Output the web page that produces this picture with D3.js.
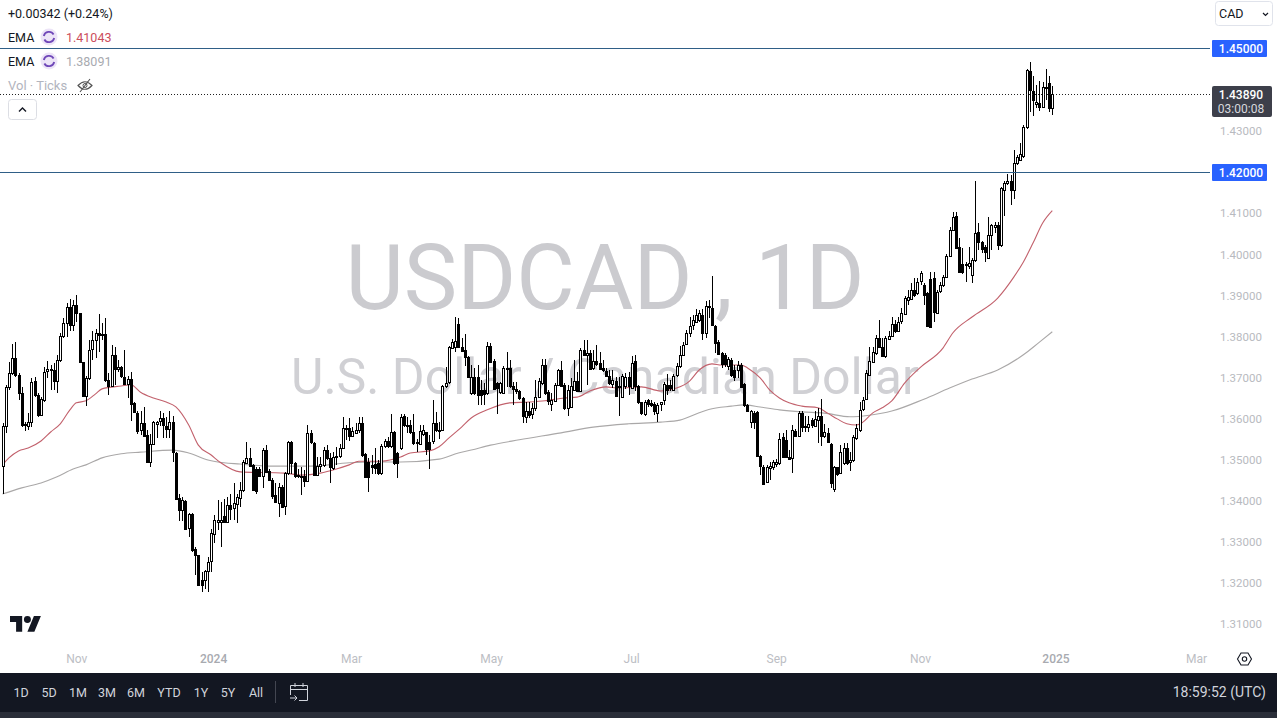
<!DOCTYPE html>
<html>
<head>
<meta charset="utf-8">
<title>USDCAD 1D</title>
<script src="https://cdn.jsdelivr.net/npm/d3@7"></script>
<style>
  html, body { margin: 0; padding: 0; background: #fff; overflow: hidden; }
  svg { display: block; font-family: Roboto, "Open Sans", sans-serif; }
</style>
</head>
<body>
<div id="chart"></div>
<script>
// daily candles
const opens = [
  1.3483,1.3580,1.3674,1.3708,1.3745,1.3704,1.3659,1.3584,1.3580,1.3590,
  1.3689,1.3655,1.3606,1.3645,1.3712,1.3718,1.3715,1.3688,1.3740,1.3799,
  1.3830,1.3870,1.3826,1.3874,1.3854,1.3735,1.3653,1.3696,1.3765,1.3788,
  1.3805,1.3801,1.3803,1.3692,1.3678,1.3753,1.3718,1.3723,1.3700,1.3682,
  1.3693,1.3635,1.3612,1.3568,1.3586,1.3558,1.3493,1.3536,1.3586,1.3590,
  1.3598,1.3580,1.3572,1.3589,1.3515,1.3404,1.3375,1.3397,1.3330,1.3365,
  1.3279,1.3265,1.3205,1.3205,1.3227,1.3249,1.3318,1.3347,1.3347,1.3360,
  1.3345,1.3387,1.3378,1.3391,1.3403,1.3423,1.3490,1.3501,1.3484,1.3476,
  1.3476,1.3458,1.3521,1.3470,1.3449,1.3411,1.3393,1.3432,1.3383,1.3464,
  1.3540,1.3490,1.3460,1.3459,1.3458,1.3446,1.3562,1.3539,1.3460,1.3482,
  1.3484,1.3521,1.3501,1.3479,1.3503,1.3505,1.3525,1.3574,1.3576,1.3556,
  1.3563,1.3571,1.3588,1.3511,1.3493,1.3484,1.3488,1.3490,1.3466,1.3531,
  1.3543,1.3531,1.3564,1.3513,1.3527,1.3604,1.3582,1.3582,1.3564,1.3540,
  1.3537,1.3560,1.3564,1.3541,1.3541,1.3586,1.3570,1.3570,1.3677,1.3685,
  1.3771,1.3773,1.3828,1.3773,1.3765,1.3747,1.3661,1.3700,1.3700,1.3668,
  1.3668,1.3660,1.3775,1.3739,1.3684,1.3661,1.3661,1.3720,1.3720,1.3676,
  1.3669,1.3664,1.3647,1.3601,1.3617,1.3609,1.3623,1.3651,1.3684,1.3729,
  1.3662,1.3633,1.3642,1.3680,1.3716,1.3680,1.3625,1.3625,1.3669,1.3690,
  1.3666,1.3765,1.3753,1.3757,1.3719,1.3737,1.3734,1.3720,1.3714,1.3702,
  1.3682,1.3690,1.3677,1.3651,1.3676,1.3699,1.3674,1.3737,1.3676,1.3637,
  1.3609,1.3642,1.3635,1.3633,1.3612,1.3631,1.3642,1.3680,1.3680,1.3669,
  1.3702,1.3725,1.3753,1.3780,1.3806,1.3824,1.3834,1.3838,1.3850,1.3806,
  1.3869,1.3867,1.3824,1.3785,1.3757,1.3753,1.3725,1.3741,1.3716,1.3716,
  1.3729,1.3682,1.3631,1.3591,1.3612,1.3613,1.3507,1.3481,1.3444,1.3479,
  1.3479,1.3487,1.3489,1.3554,1.3546,1.3505,1.3501,1.3568,1.3556,1.3611,
  1.3580,1.3578,1.3595,1.3581,1.3595,1.3603,1.3556,1.3562,1.3536,1.3428,
  1.3479,1.3465,1.3489,1.3526,1.3491,1.3497,1.3550,1.3570,1.3621,1.3645,
  1.3704,1.3737,1.3757,1.3794,1.3773,1.3749,1.3791,1.3799,1.3829,1.3813,
  1.3834,1.3854,1.3886,1.3890,1.3912,1.3903,1.3931,1.3923,1.3903,1.3937,
  1.3939,1.3855,1.3909,1.3923,1.3943,1.3994,1.4058,1.4091,1.4015,1.3973,
  1.3973,1.3969,1.3947,1.3984,1.4053,1.4028,1.4015,1.3990,1.4045,1.4063,
  1.4069,1.4020,1.4154,1.4171,1.4176,1.4154,1.4219,1.4227,1.4238,1.4307,
  1.4445,1.4396,1.4365,1.4367,1.4356,1.4404,1.4414,1.4356
];
const closes = [
  1.3580,1.3675,1.3708,1.3745,1.3704,1.3659,1.3582,1.3581,1.3590,1.3688,
  1.3655,1.3606,1.3645,1.3712,1.3718,1.3715,1.3688,1.3740,1.3799,1.3830,
  1.3870,1.3826,1.3874,1.3854,1.3735,1.3653,1.3696,1.3765,1.3788,1.3805,
  1.3801,1.3804,1.3690,1.3678,1.3753,1.3718,1.3723,1.3700,1.3682,1.3693,
  1.3633,1.3612,1.3568,1.3586,1.3555,1.3493,1.3536,1.3590,1.3590,1.3598,
  1.3580,1.3572,1.3589,1.3515,1.3404,1.3375,1.3399,1.3330,1.3365,1.3278,
  1.3264,1.3192,1.3192,1.3227,1.3249,1.3318,1.3351,1.3351,1.3351,1.3345,
  1.3387,1.3378,1.3391,1.3407,1.3423,1.3491,1.3501,1.3482,1.3423,1.3423,
  1.3458,1.3521,1.3468,1.3449,1.3409,1.3393,1.3432,1.3383,1.3464,1.3540,
  1.3490,1.3458,1.3458,1.3458,1.3446,1.3562,1.3539,1.3462,1.3482,1.3486,
  1.3521,1.3501,1.3479,1.3505,1.3506,1.3525,1.3574,1.3576,1.3556,1.3568,
  1.3571,1.3588,1.3509,1.3456,1.3456,1.3480,1.3479,1.3466,1.3531,1.3543,
  1.3531,1.3564,1.3488,1.3488,1.3602,1.3583,1.3580,1.3564,1.3537,1.3537,
  1.3568,1.3570,1.3523,1.3523,1.3586,1.3570,1.3571,1.3677,1.3685,1.3771,
  1.3785,1.3787,1.3773,1.3763,1.3747,1.3698,1.3699,1.3660,1.3656,1.3656,
  1.3658,1.3775,1.3737,1.3672,1.3672,1.3684,1.3722,1.3722,1.3676,1.3668,
  1.3664,1.3647,1.3603,1.3615,1.3607,1.3623,1.3651,1.3690,1.3727,1.3660,
  1.3639,1.3642,1.3680,1.3716,1.3678,1.3625,1.3668,1.3676,1.3690,1.3666,
  1.3765,1.3753,1.3757,1.3719,1.3737,1.3729,1.3719,1.3715,1.3703,1.3684,
  1.3692,1.3653,1.3676,1.3702,1.3699,1.3676,1.3734,1.3676,1.3637,1.3611,
  1.3639,1.3633,1.3631,1.3617,1.3631,1.3637,1.3682,1.3669,1.3672,1.3702,
  1.3725,1.3753,1.3777,1.3806,1.3824,1.3837,1.3850,1.3854,1.3806,1.3871,
  1.3872,1.3826,1.3783,1.3757,1.3729,1.3730,1.3742,1.3704,1.3700,1.3729,
  1.3676,1.3631,1.3617,1.3617,1.3589,1.3505,1.3483,1.3440,1.3481,1.3483,
  1.3491,1.3493,1.3548,1.3505,1.3504,1.3501,1.3570,1.3556,1.3611,1.3578,
  1.3577,1.3585,1.3582,1.3597,1.3604,1.3554,1.3566,1.3539,1.3440,1.3481,
  1.3463,1.3517,1.3526,1.3489,1.3497,1.3554,1.3574,1.3619,1.3643,1.3708,
  1.3737,1.3761,1.3794,1.3772,1.3751,1.3794,1.3798,1.3829,1.3812,1.3834,
  1.3854,1.3892,1.3893,1.3912,1.3899,1.3931,1.3951,1.3899,1.3823,1.3821,
  1.3855,1.3907,1.3923,1.3942,1.3994,1.4058,1.4089,1.4012,1.3955,1.3953,
  1.3972,1.3977,1.3984,1.4050,1.4028,1.4012,1.4002,1.4045,1.4069,1.4069,
  1.4020,1.4158,1.4171,1.4177,1.4154,1.4219,1.4234,1.4241,1.4308,1.4446,
  1.4398,1.4373,1.4369,1.4357,1.4404,1.4406,1.4353,1.4389
];
const highs = [
  1.3586,1.3680,1.3736,1.3779,1.3784,1.3708,1.3675,1.3590,1.3611,1.3696,
  1.3698,1.3659,1.3651,1.3724,1.3739,1.3728,1.3734,1.3753,1.3805,1.3842,
  1.3879,1.3888,1.3887,1.3899,1.3856,1.3736,1.3702,1.3789,1.3812,1.3815,
  1.3853,1.3830,1.3842,1.3708,1.3777,1.3773,1.3740,1.3726,1.3765,1.3701,
  1.3710,1.3639,1.3615,1.3615,1.3625,1.3570,1.3559,1.3592,1.3592,1.3617,
  1.3612,1.3602,1.3615,1.3604,1.3517,1.3414,1.3407,1.3399,1.3369,1.3367,
  1.3286,1.3266,1.3225,1.3229,1.3261,1.3330,1.3363,1.3399,1.3395,1.3401,
  1.3407,1.3415,1.3440,1.3415,1.3444,1.3497,1.3540,1.3525,1.3487,1.3480,
  1.3480,1.3525,1.3533,1.3474,1.3452,1.3440,1.3440,1.3436,1.3468,1.3543,
  1.3543,1.3493,1.3476,1.3480,1.3472,1.3583,1.3570,1.3541,1.3505,1.3505,
  1.3529,1.3533,1.3513,1.3517,1.3529,1.3536,1.3602,1.3582,1.3598,1.3578,
  1.3586,1.3602,1.3601,1.3514,1.3501,1.3509,1.3525,1.3498,1.3537,1.3549,
  1.3553,1.3610,1.3568,1.3517,1.3610,1.3610,1.3602,1.3594,1.3610,1.3549,
  1.3582,1.3582,1.3566,1.3557,1.3644,1.3614,1.3590,1.3679,1.3724,1.3774,
  1.3791,1.3844,1.3842,1.3793,1.3803,1.3751,1.3729,1.3720,1.3729,1.3692,
  1.3684,1.3783,1.3781,1.3742,1.3688,1.3688,1.3725,1.3759,1.3741,1.3688,
  1.3688,1.3668,1.3651,1.3639,1.3639,1.3635,1.3692,1.3696,1.3742,1.3742,
  1.3668,1.3660,1.3684,1.3718,1.3737,1.3684,1.3680,1.3696,1.3741,1.3712,
  1.3769,1.3789,1.3789,1.3765,1.3765,1.3777,1.3761,1.3741,1.3720,1.3716,
  1.3716,1.3700,1.3700,1.3707,1.3708,1.3712,1.3751,1.3753,1.3680,1.3639,
  1.3643,1.3645,1.3643,1.3637,1.3635,1.3639,1.3686,1.3707,1.3692,1.3707,
  1.3734,1.3775,1.3783,1.3814,1.3846,1.3850,1.3864,1.3863,1.3864,1.3885,
  1.3887,1.3945,1.3826,1.3789,1.3759,1.3757,1.3747,1.3745,1.3729,1.3737,
  1.3733,1.3684,1.3634,1.3619,1.3615,1.3615,1.3509,1.3485,1.3485,1.3493,
  1.3497,1.3499,1.3562,1.3562,1.3570,1.3522,1.3582,1.3572,1.3617,1.3615,
  1.3603,1.3603,1.3599,1.3615,1.3623,1.3645,1.3585,1.3574,1.3538,1.3483,
  1.3481,1.3534,1.3538,1.3538,1.3517,1.3558,1.3585,1.3638,1.3651,1.3716,
  1.3773,1.3773,1.3802,1.3837,1.3794,1.3798,1.3812,1.3846,1.3838,1.3846,
  1.3866,1.3896,1.3911,1.3927,1.3939,1.3939,1.3957,1.3927,1.3907,1.3955,
  1.3955,1.3911,1.3931,1.3947,1.3998,1.4063,1.4101,1.4101,1.4037,1.4012,
  1.3980,1.4016,1.3988,1.4175,1.4075,1.4031,1.4020,1.4089,1.4071,1.4077,
  1.4077,1.4162,1.4175,1.4193,1.4191,1.4252,1.4239,1.4269,1.4312,1.4450,
  1.4465,1.4432,1.4410,1.4420,1.4418,1.4448,1.4432,1.4408
];
const lows = [
  1.3414,1.3562,1.3667,1.3704,1.3700,1.3643,1.3578,1.3568,1.3570,1.3578,
  1.3651,1.3602,1.3604,1.3639,1.3696,1.3667,1.3667,1.3661,1.3736,1.3793,
  1.3797,1.3812,1.3812,1.3834,1.3732,1.3650,1.3629,1.3692,1.3740,1.3745,
  1.3761,1.3789,1.3688,1.3655,1.3676,1.3680,1.3712,1.3696,1.3680,1.3647,
  1.3593,1.3611,1.3560,1.3558,1.3554,1.3489,1.3479,1.3533,1.3550,1.3580,
  1.3550,1.3550,1.3550,1.3493,1.3401,1.3349,1.3349,1.3328,1.3310,1.3274,
  1.3217,1.3190,1.3176,1.3184,1.3176,1.3225,1.3294,1.3326,1.3286,1.3343,
  1.3343,1.3351,1.3351,1.3343,1.3383,1.3419,1.3488,1.3479,1.3422,1.3414,
  1.3456,1.3428,1.3466,1.3446,1.3403,1.3391,1.3357,1.3379,1.3363,1.3460,
  1.3464,1.3454,1.3452,1.3411,1.3430,1.3444,1.3536,1.3458,1.3458,1.3468,
  1.3480,1.3497,1.3440,1.3472,1.3484,1.3501,1.3523,1.3545,1.3544,1.3553,
  1.3560,1.3562,1.3505,1.3454,1.3419,1.3464,1.3464,1.3460,1.3460,1.3527,
  1.3525,1.3527,1.3484,1.3454,1.3521,1.3578,1.3563,1.3560,1.3533,1.3517,
  1.3533,1.3555,1.3509,1.3476,1.3537,1.3566,1.3547,1.3568,1.3671,1.3682,
  1.3766,1.3761,1.3769,1.3761,1.3725,1.3696,1.3655,1.3655,1.3631,1.3631,
  1.3631,1.3655,1.3733,1.3668,1.3609,1.3658,1.3658,1.3674,1.3672,1.3631,
  1.3658,1.3643,1.3586,1.3588,1.3599,1.3596,1.3617,1.3647,1.3680,1.3656,
  1.3631,1.3615,1.3639,1.3677,1.3674,1.3619,1.3603,1.3623,1.3668,1.3664,
  1.3664,1.3749,1.3680,1.3716,1.3716,1.3725,1.3716,1.3710,1.3699,1.3680,
  1.3672,1.3650,1.3603,1.3647,1.3669,1.3656,1.3669,1.3664,1.3634,1.3607,
  1.3603,1.3627,1.3625,1.3607,1.3589,1.3615,1.3631,1.3656,1.3666,1.3666,
  1.3699,1.3720,1.3751,1.3777,1.3796,1.3814,1.3830,1.3834,1.3789,1.3794,
  1.3842,1.3824,1.3757,1.3753,1.3720,1.3723,1.3716,1.3700,1.3690,1.3696,
  1.3674,1.3627,1.3615,1.3574,1.3572,1.3504,1.3461,1.3439,1.3440,1.3448,
  1.3473,1.3481,1.3485,1.3501,1.3501,1.3497,1.3465,1.3554,1.3552,1.3566,
  1.3564,1.3566,1.3574,1.3578,1.3538,1.3531,1.3550,1.3538,1.3428,1.3418,
  1.3457,1.3463,1.3485,1.3485,1.3471,1.3493,1.3546,1.3566,1.3617,1.3642,
  1.3702,1.3733,1.3753,1.3769,1.3747,1.3745,1.3788,1.3797,1.3805,1.3812,
  1.3829,1.3850,1.3874,1.3886,1.3894,1.3899,1.3923,1.3874,1.3821,1.3820,
  1.3834,1.3852,1.3904,1.3919,1.3939,1.3990,1.4055,1.4010,1.3953,1.3950,
  1.3931,1.3963,1.3927,1.3980,1.4008,1.4000,1.3980,1.3988,1.4008,1.4049,
  1.4008,1.4016,1.4091,1.4166,1.4118,1.4132,1.4215,1.4225,1.4231,1.4304,
  1.4345,1.4334,1.4353,1.4347,1.4353,1.4373,1.4343,1.4337
];

// moving averages, sampled along the drawn curves
const emaFastIndex = [0,2,5,8,12,15,18,21,23,26,29,31,37,40,43,47,51,54,58,61,65,68,74,88,93,99,104,108,111,118,124,127,133,136,139,143,146,151,158,164,169,175,179,183,188,192,199,205,210,214,217,221,224,227,230,233,236,239,242,245,249,254,257,260,263,266,268,271,274,277,281,286,293,296,302,310,315,318,321,324,327];
const emaFastValues = [1.3485,1.3502,1.3519,1.3526,1.3543,1.3565,1.3585,1.3619,1.3636,1.3641,1.3658,1.3670,1.3677,1.3680,1.3662,1.3648,1.3638,1.3626,1.3582,1.3533,1.3509,1.3490,1.3468,1.3465,1.3460,1.3465,1.3475,1.3485,1.3494,1.3494,1.3504,1.3514,1.3519,1.3529,1.3550,1.3577,1.3599,1.3619,1.3636,1.3638,1.3641,1.3648,1.3650,1.3665,1.3675,1.3672,1.3675,1.3665,1.3672,1.3689,1.3716,1.3731,1.3728,1.3728,1.3728,1.3716,1.3697,1.3667,1.3648,1.3636,1.3628,1.3624,1.3611,1.3597,1.3585,1.3582,1.3589,1.3611,1.3624,1.3641,1.3684,1.3723,1.3770,1.3806,1.3845,1.3891,1.3942,1.3979,1.4025,1.4074,1.4104];
const emaSlowIndex = [0,6,12,17,22,26,31,37,43,53,58,64,69,74,77,83,96,108,115,124,136,142,146,152,161,174,184,195,205,211,217,220,227,231,236,242,249,256,264,270,277,287,295,302,310,318,323,327];
const emaSlowValues = [1.3414,1.3429,1.3441,1.3456,1.3475,1.3485,1.3502,1.3512,1.3516,1.3521,1.3514,1.3497,1.3490,1.3487,1.3485,1.3482,1.3482,1.3490,1.3492,1.3492,1.3499,1.3514,1.3521,1.3533,1.3546,1.3563,1.3577,1.3585,1.3589,1.3594,1.3612,1.3620,1.3628,1.3631,1.3626,1.3619,1.3614,1.3611,1.3602,1.3606,1.3616,1.3645,1.3672,1.3694,1.3716,1.3753,1.3784,1.3809];

// axis labels
const priceTicks = [1.31,1.32,1.33,1.34,1.35,1.36,1.37,1.38,1.39,1.40,1.41,1.43];
const levelPrices = [1.45,1.42];
const lastPrice = 1.4389;
const timeTickIndex = [23,65.6,108.6,152.2,195.8,241,285.8,328,371.8];
const timeTickLabels = ["Nov","2024","Mar","May","Jul","Sep","Nov","2025","Mar"];
const rangeButtons = ["1D","5D","1M","3M","6M","YTD","1Y","5Y","All"];
const rangeButtonX = [21,49,78,107,136,169,201,228,256];

const width = 1277, height = 718;
const paneRight = 1210, paneBottom = 646;

const svg = d3.select("#chart").append("svg")
  .attr("width", width)
  .attr("height", height);

const x = d3.scaleLinear().domain([0, 328]).range([2.5, 1055.5]);
const y = d3.scaleLinear().domain([1.31, 1.45]).range([623, 48]);

// watermark sits behind everything
svg.append("text")
  .attr("x", 605).attr("y", 309)
  .attr("text-anchor", "middle")
  .attr("font-size", 90)
  .attr("fill", "#cbcbcf")
  .text("USDCAD , 1D");
svg.append("text")
  .attr("x", 605).attr("y", 394)
  .attr("text-anchor", "middle")
  .attr("font-size", 50)
  .attr("fill", "#d0d0d4")
  .text("U.S. Dollar / Canadian Dollar");

// EMA lines
const emaLine = d3.line()
  .x(d => x(d[0]))
  .y(d => y(d[1]))
  .curve(d3.curveMonotoneX);

svg.append("path")
  .datum(d3.zip(emaSlowIndex, emaSlowValues))
  .attr("fill", "none")
  .attr("stroke", "#aaa8a8")
  .attr("stroke-width", 1.1)
  .attr("d", emaLine);
svg.append("path")
  .datum(d3.zip(emaFastIndex, emaFastValues))
  .attr("fill", "none")
  .attr("stroke", "#c2616c")
  .attr("stroke-width", 1.1)
  .attr("d", emaLine);

// candles
const candles = d3.range(opens.length).map(i => ({
  i, open: opens[i], close: closes[i], high: highs[i], low: lows[i]
}));

const candleG = svg.append("g")
  .attr("shape-rendering", "crispEdges")
  .selectAll("g")
  .data(candles)
  .enter()
  .append("g");

candleG.append("line")
  .attr("x1", d => Math.round(x(d.i)) + 0.5)
  .attr("x2", d => Math.round(x(d.i)) + 0.5)
  .attr("y1", d => y(d.high))
  .attr("y2", d => y(d.low))
  .attr("stroke", "#000");

candleG.append("rect")
  .attr("x", d => Math.round(x(d.i)) - 0.5)
  .attr("width", 2)
  .attr("y", d => Math.round(y(Math.max(d.open, d.close))) + 0.5)
  .attr("height", d => Math.max(1, Math.round(Math.abs(y(d.open) - y(d.close)))))
  .attr("fill", d => d.close >= d.open ? "#fff" : "#000")
  .attr("stroke", "#000");

// horizontal levels and last price
svg.selectAll(".level")
  .data(levelPrices)
  .enter()
  .append("line")
  .attr("class", "level")
  .attr("x1", 0).attr("x2", paneRight)
  .attr("y1", d => Math.ceil(y(d)) + 0.5)
  .attr("y2", d => Math.ceil(y(d)) + 0.5)
  .attr("stroke", "#2f5f87");

svg.append("line")
  .attr("x1", 0).attr("x2", paneRight)
  .attr("y1", Math.round(y(lastPrice)) + 0.5)
  .attr("y2", Math.round(y(lastPrice)) + 0.5)
  .attr("stroke", "#222")
  .attr("stroke-dasharray", "1 2");

// price axis
const priceAxis = svg.append("g")
  .attr("transform", `translate(1241,1)`)
  .call(d3.axisRight(y).tickValues(priceTicks).tickFormat(d3.format(".5f")).tickSize(0).tickPadding(0));
priceAxis.select(".domain").remove();
priceAxis.selectAll("text")
  .attr("text-anchor", "middle")
  .attr("font-family", "Roboto, sans-serif")
  .attr("font-size", 11.5)
  .attr("fill", "#b8bac0");

// time axis
const timeAxis = svg.append("g")
  .attr("transform", `translate(0,${paneBottom + 8})`)
  .call(d3.axisBottom(x).tickValues(timeTickIndex).tickFormat((d, i) => timeTickLabels[i]).tickSize(0).tickPadding(0));
timeAxis.select(".domain").remove();
timeAxis.selectAll("text")
  .attr("font-family", "Roboto, sans-serif")
  .attr("font-size", 12)
  .attr("fill", (d, i) => /^\d/.test(timeTickLabels[i]) ? "#a8aab0" : "#bcbec4")
  .attr("font-weight", (d, i) => /^\d/.test(timeTickLabels[i]) ? 500 : 400);

// blue level labels
const levelLabels = svg.selectAll(".levelLabel")
  .data(levelPrices)
  .enter()
  .append("g")
  .attr("class", "levelLabel")
  .attr("transform", d => `translate(1212,${Math.ceil(y(d)) - 8})`);
levelLabels.append("rect")
  .attr("width", 55).attr("height", 17).attr("rx", 1)
  .attr("fill", "#2962ff");
levelLabels.append("text")
  .attr("x", 29).attr("y", 13)
  .attr("text-anchor", "middle")
  .attr("font-size", 12).attr("font-weight", 500)
  .attr("fill", "#fff")
  .text(d => d3.format(".5f")(d));

// last price label
const lastLabel = svg.append("g").attr("transform", "translate(1212,86)");
lastLabel.append("rect")
  .attr("width", 60).attr("height", 31).attr("rx", 2)
  .attr("fill", "#3d3f4a");
lastLabel.append("text")
  .attr("x", 29).attr("y", 13).attr("text-anchor", "middle")
  .attr("font-size", 12).attr("font-weight", 500).attr("fill", "#fff")
  .text(d3.format(".5f")(lastPrice));
lastLabel.append("text")
  .attr("x", 29).attr("y", 27).attr("text-anchor", "middle")
  .attr("font-size", 12).attr("fill", "#d8d9de")
  .text("03:00:08");

// legend, top left
const legend = svg.append("g").attr("font-size", 12.5);
legend.append("text").attr("x", 8).attr("y", 18).attr("fill", "#131722").text("+0.00342 (+0.24%)");

function emaRow(rowY, value, color) {
  legend.append("text").attr("x", 8).attr("y", rowY + 5).attr("fill", "#131722").text("EMA");
  legend.append("circle").attr("cx", 49).attr("cy", rowY).attr("r", 8.5).attr("fill", "#ece4f7");
  legend.append("path")
    .attr("d", `M43.8 ${rowY - 1}A5.3 5.3 0 0 1 53.6 ${rowY - 2.5}M54.2 ${rowY + 1}A5.3 5.3 0 0 1 44.4 ${rowY + 2.5}`)
    .attr("fill", "none").attr("stroke", "#6f47b8").attr("stroke-width", 1.8);
  legend.append("text").attr("x", 66).attr("y", rowY + 5).attr("fill", color).text(value);
}
emaRow(37, "1.41043", "#cc4e5c");
emaRow(61, "1.38091", "#a8aab0");

legend.append("text").attr("x", 8).attr("y", 90).attr("fill", "#b2b5be").attr("font-size", 13).text("Vol · Ticks");
legend.append("path")
  .attr("d", "M78 85.5Q85 78 92 85.5Q85 93 78 85.5ZM80 92L90 79")
  .attr("fill", "none").attr("stroke", "#555").attr("stroke-width", 1.1);
legend.append("circle").attr("cx", 85).attr("cy", 85.5).attr("r", 2)
  .attr("fill", "none").attr("stroke", "#555");

// collapse button
svg.append("rect")
  .attr("x", 8.5).attr("y", 99.5).attr("width", 28).attr("height", 20).attr("rx", 3)
  .attr("fill", "#fff").attr("stroke", "#dcdee4");
svg.append("path")
  .attr("d", "M19 111.5L22.5 108L26 111.5")
  .attr("fill", "none").attr("stroke", "#131722").attr("stroke-width", 1.4);

// currency dropdown
svg.append("rect")
  .attr("x", 1215.5).attr("y", 1.5).attr("width", 57).attr("height", 24).attr("rx", 3)
  .attr("fill", "#fff").attr("stroke", "#e0e3eb");
svg.append("text")
  .attr("x", 1219).attr("y", 18)
  .attr("font-size", 12.5).attr("fill", "#131722")
  .text("CAD");
svg.append("path")
  .attr("d", "M1263 13L1265.5 15.5L1268 13")
  .attr("fill", "none").attr("stroke", "#131722").attr("stroke-width", 1.2);

// logo
const logo = svg.append("g").attr("transform", "translate(10,612.5) scale(0.87)").attr("fill", "#131722");
logo.append("path").attr("d", "M14 22H7V11H0V4h14v18zM28 22h-8l7.5-18h8L28 22z");
logo.append("circle").attr("cx", 20).attr("cy", 8).attr("r", 4);

// settings icon
svg.append("path")
  .attr("d", "M1237.5 659L1241 653H1248L1251.5 659L1248 665H1241Z")
  .attr("fill", "none").attr("stroke", "#131722").attr("stroke-width", 1.1);
svg.append("circle")
  .attr("cx", 1244.5).attr("cy", 659).attr("r", 2.2)
  .attr("fill", "none").attr("stroke", "#131722").attr("stroke-width", 1.1);

// bottom toolbar
svg.append("rect").attr("x", 0).attr("y", 673).attr("width", width).attr("height", 39).attr("fill", "#131722");
svg.append("rect").attr("x", 0).attr("y", 712).attr("width", width).attr("height", 6).attr("fill", "#2a2e39");

svg.selectAll(".rangeBtn")
  .data(rangeButtons)
  .enter()
  .append("text")
  .attr("class", "rangeBtn")
  .attr("x", (d, i) => rangeButtonX[i])
  .attr("y", 697)
  .attr("text-anchor", "middle")
  .attr("font-size", 12.5)
  .attr("fill", "#d1d4dc")
  .text(d => d);

svg.append("line")
  .attr("x1", 275.5).attr("x2", 275.5).attr("y1", 681).attr("y2", 703)
  .attr("stroke", "#434651");
svg.append("path")
  .attr("d", "M290.5 695V685.5H307.5V700.5H299M290.5 689.5H307.5M295 683V687M303 683V687M290 698H297M294.5 695.5L297 698L294.5 700.5")
  .attr("fill", "none").attr("stroke", "#d1d4dc").attr("stroke-width", 1);

svg.append("text")
  .attr("x", 1266).attr("y", 697)
  .attr("text-anchor", "end")
  .attr("font-size", 14)
  .attr("fill", "#d1d4dc")
  .text("18:59:52 (UTC)");
</script>
</body>
</html>
